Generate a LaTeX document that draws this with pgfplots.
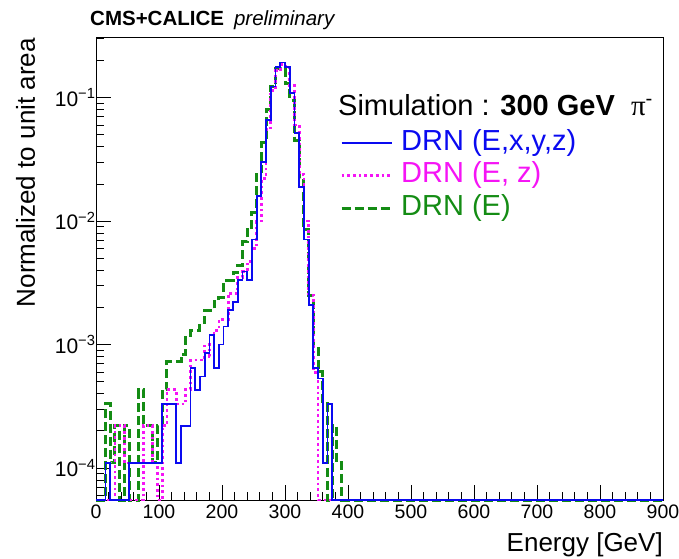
\documentclass[border=0pt]{standalone}
\usepackage{fontspec}
\setmainfont{Liberation Sans}
\newfontfamily\serifgr{Liberation Serif}
\usepackage{pgfplots}
\pgfplotsset{compat=1.18}
\definecolor{rblue}{RGB}{10,10,240}
\definecolor{rmag}{RGB}{245,20,245}
\definecolor{rgreen}{RGB}{20,140,20}
\begin{document}
\begin{tikzpicture}
\useasboundingbox (0,0) rectangle (679pt,558pt);
\begin{axis}[
  at={(96pt,58pt)}, anchor=south west,
  scale only axis, width=567pt, height=463pt,
  xmin=0, xmax=900, ymode=log, ymin=5.5e-5, ymax=0.31,
  clip=false, no markers,
  axis line style={line width=0.8pt},
  xtick pos=bottom, ytick pos=left,
  tick align=inside,
  major tick length=15pt, minor tick length=8pt,
  every tick/.style={black, line width=0.7pt},
  xtick={0,100,...,900}, minor x tick num=4,
  ytick={1e-4,1e-3,1e-2,1e-1},
  yticklabels={10\textsuperscript{−4},10\textsuperscript{−3},10\textsuperscript{−2},10\textsuperscript{−1}},
  minor ytick={6e-5,7e-5,8e-5,9e-5,2e-4,3e-4,4e-4,5e-4,6e-4,7e-4,8e-4,9e-4,2e-3,3e-3,4e-3,5e-3,6e-3,7e-3,8e-3,9e-3,2e-2,3e-2,4e-2,5e-2,6e-2,7e-2,8e-2,9e-2,2e-1,3e-1},
  /pgf/number format/assume math mode=true,
  xticklabel style={font=\fontsize{19.5}{19.5}\selectfont, yshift=-1pt},
  yticklabel style={font=\fontsize{21}{21}\selectfont, xshift=3pt},
  every axis x label/.style={at={(axis description cs:1,-0.1102)}, anchor=base east, inner sep=0pt, font=\fontsize{26}{26}\selectfont},
  every axis y label/.style={at={(axis description cs:-0.1076,0.9978)}, rotate=90, anchor=base east, inner sep=0pt, font=\fontsize{26}{26}\selectfont},
  xlabel={Energy [GeV]},
  ylabel={Normalized to unit area},
  reverse legend,
  legend cell align=left,
  legend image code/.code={\draw[#1] (0pt,0pt) -- (50pt,0pt);},
  legend style={at={(axis description cs:0.4303,0.8013)}, anchor=north west, draw=none, fill=none, inner sep=0pt,
    font=\fontsize{29}{29}\selectfont, row sep=4.5pt, column sep=8pt,
    nodes={inner sep=0pt, text height=21pt, text depth=7pt}},
]
% DRN (E)
\addplot[const plot, draw=rgreen, line width=3pt, dash pattern=on 9pt off 4pt] coordinates {
(0,5.5e-5) (15,3.3e-4) (22.5,1.1e-4) (30,2.2e-4) (37.5,5.5e-5) (45,2.2e-4) (52.5,5.5e-5)
(67.5,4.3e-4) (75,2.2e-4) (90,1.1e-4) (97.5,2.2e-4) (105,4.3e-4) (112.5,7.3e-4) (135,8.3e-4)
(142.5,1.15e-3) (150,1.3e-3) (165,1.5e-3) (172.5,1.9e-3) (187.5,2.25e-3) (195,2.4e-3)
(202.5,3.3e-3) (217.5,3.8e-3) (225,4.4e-3) (232.5,6.8e-3) (240,8.5e-3) (247.5,1.17e-2)
(255,2.5e-2) (262.5,4.3e-2) (270,8.0e-2) (277.5,1.23e-1) (285,1.72e-1) (292.5,1.75e-1)
(300,1.3e-1) (307.5,9.5e-2) (315,4.5e-2) (322.5,2.2e-2) (330,8.5e-3) (337.5,2.5e-3)
(345,9.6e-4) (352.5,6.0e-4) (360,3.3e-4) (367.5,5.5e-5) (375,2.2e-4) (382.5,1.1e-4)
(390,5.5e-5) (900,5.5e-5)};
\addlegendentry{\textcolor{rgreen}{DRN (E)}}
% DRN (E, z)
\addplot[const plot, draw=rmag, line width=2.7pt, dash pattern=on 2.7pt off 3pt] coordinates {
(0,5.5e-5) (30,2.2e-4) (45,1.1e-4) (52.5,5.5e-5) (75,2.2e-4) (90,1.1e-4) (97.5,5.5e-5)
(105,2.2e-4) (112.5,4.3e-4) (127.5,3.3e-4) (142.5,4.3e-4) (150,7.5e-4) (172.5,1.0e-3)
(180,8e-4) (187.5,1.3e-3) (195,1.6e-3) (210,2.6e-3) (225,3.5e-3) (232.5,3.9e-3)
(240,4.7e-3) (247.5,6.0e-3) (255,1.0e-2) (262.5,2.2e-2) (270,5.5e-2) (277.5,1.15e-1)
(285,1.65e-1) (292.5,1.85e-1) (300,1.8e-1) (307.5,1.25e-1) (315,6.0e-2) (322.5,2.4e-2)
(330,1.0e-2) (337.5,2.5e-3) (345,5.9e-4) (352.5,5.5e-5) (900,5.5e-5)};
\addlegendentry{\textcolor{rmag}{DRN (E, z)}}
% DRN (E,x,y,z)
\addplot[const plot, draw=rblue, line width=1.8pt] coordinates {
(0,5.5e-5) (15,1.1e-4) (22.5,5.5e-5) (52.5,1.1e-4) (105,3.3e-4) (127.5,1.1e-4) (135,2.2e-4)
(150,6.5e-4) (157.5,4.3e-4) (165,5.5e-4) (172.5,8.5e-4) (180,1.2e-3) (187.5,6.5e-4)
(195,1.0e-3) (202.5,1.4e-3) (210,1.9e-3) (217.5,2.2e-3) (225,3.35e-3) (232.5,3.9e-3)
(240,3.35e-3) (247.5,7.1e-3) (255,1.6e-2) (262.5,3.0e-2) (270,6.6e-2) (277.5,1.23e-1)
(285,1.78e-1) (292.5,1.93e-1) (300,1.78e-1) (307.5,1.09e-1) (315,5.2e-2) (322.5,1.9e-2)
(330,7.1e-3) (337.5,2.1e-3) (345,6.5e-4) (352.5,5.3e-4) (360,1.1e-4) (367.5,3.3e-4)
(375,5.5e-5) (900,5.5e-5)};
\addlegendentry{\textcolor{rblue}{DRN (E,x,y,z)}}
\node[anchor=base west, inner sep=0pt, font=\fontsize{29}{29}\selectfont] at (axis description cs:0.4268,0.8315)
  {Simulation : \textbf{300 GeV} \ {\serifgr π}\textsuperscript{-}};
\end{axis}
\node[anchor=base west, inner sep=0pt, font=\fontsize{20.5}{20.5}\selectfont] at (90pt,532pt)
  {\textbf{CMS+CALICE}\hspace{10pt}\textit{preliminary}};
\end{tikzpicture}
\end{document}
